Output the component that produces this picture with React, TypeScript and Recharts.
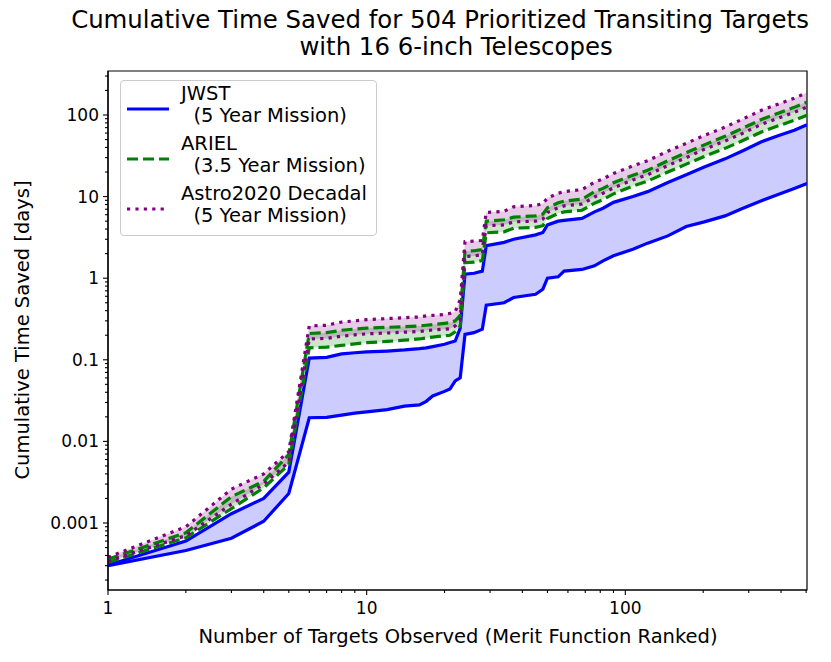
import React from "react";
import {
  ComposedChart,
  Line,
  Area,
  XAxis,
  YAxis,
  Legend,
  ReferenceArea,
} from "recharts";

// targets observed (merit-function ranked)
const targets = [
  1, 2, 3, 4, 5, 6, 7, 8, 9, 10, 12, 14, 16, 17, 18, 20, 21, 22, 23, 24, 26, 28,
  29, 34, 37, 45, 48, 50, 55, 58, 68, 76, 82, 90, 107, 122, 146, 172, 202, 243,
  282, 336, 392, 450, 504,
];

// cumulative time saved [days]
const jwstLow = [
  3.0e-4, 4.6e-4, 6.5e-4, 1.05e-3, 2.3e-3, 0.0195, 0.0197, 0.021, 0.0222, 0.023,
  0.0245, 0.027, 0.028, 0.031, 0.036, 0.041, 0.044, 0.055, 0.06, 0.205, 0.215,
  0.237, 0.467, 0.5, 0.58, 0.636, 0.733, 1.0, 1.04, 1.22, 1.28, 1.42, 1.63, 1.88,
  2.27, 2.69, 3.3, 4.3, 4.9, 5.8, 7.1, 8.9, 10.7, 12.6, 14.5,
];
const jwstHigh = [
  3.05e-4, 6.0e-4, 1.3e-3, 2.0e-3, 4.2e-3, 0.105, 0.107, 0.118, 0.122, 0.125,
  0.128, 0.132, 0.137, 0.14, 0.145, 0.155, 0.163, 0.17, 0.245, 1.12, 1.15, 1.22,
  2.5, 2.75, 3.0, 3.4, 3.63, 4.5, 5.0, 5.1, 5.4, 6.5, 7.2, 8.5, 10.0, 11.5, 14.9,
  18.5, 23, 29, 36, 47, 56, 65, 76,
];
const arielLow = [
  3.3e-4, 6.6e-4, 1.5e-3, 2.7e-3, 5.2e-3, 0.14, 0.143, 0.15, 0.157, 0.162, 0.168,
  0.174, 0.18, 0.185, 0.19, 0.197, 0.2, 0.22, 0.26, 1.55, 1.57, 1.65, 3.6, 3.7,
  4.1, 4.2, 4.4, 5.4, 6.2, 6.5, 6.8, 8.3, 9.2, 10.8, 13.5, 15.5, 20, 25, 31, 39,
  48, 62, 74, 86, 99,
];
const arielHigh = [
  3.6e-4, 7.6e-4, 2.1e-3, 3.25e-3, 6.9e-3, 0.21, 0.215, 0.23, 0.238, 0.245, 0.25,
  0.255, 0.26, 0.265, 0.27, 0.28, 0.285, 0.3, 0.35, 2.15, 2.17, 2.25, 5.0, 5.2,
  5.6, 5.8, 6.1, 7.3, 8.4, 8.8, 9.3, 11.5, 12.6, 14.8, 18.3, 21, 27.5, 34.5, 43,
  55, 68, 88, 106, 124, 144,
];
const astroLow = [
  3.4e-4, 7.0e-4, 1.7e-3, 3.0e-3, 5.6e-3, 0.18, 0.183, 0.195, 0.202, 0.208,
  0.213, 0.218, 0.222, 0.228, 0.232, 0.237, 0.24, 0.26, 0.31, 1.85, 1.87, 1.95,
  4.4, 4.5, 4.9, 5.0, 5.3, 6.4, 7.3, 7.7, 8.1, 9.9, 11, 12.8, 16, 18.5, 24, 30,
  38, 48, 59, 77, 92, 108, 125,
];
const astroHigh = [
  3.8e-4, 9.0e-4, 2.6e-3, 4.0e-3, 7.5e-3, 0.26, 0.265, 0.29, 0.3, 0.31, 0.32,
  0.328, 0.335, 0.345, 0.35, 0.36, 0.37, 0.39, 0.55, 2.8, 2.85, 2.9, 6.4, 6.6,
  7.5, 7.8, 8.2, 9.6, 11, 11.5, 12.2, 15, 16.5, 19.2, 23.8, 27.5, 36, 45, 56, 71,
  88, 114, 137, 160, 188,
];

const xMajorTicks = [1, 10, 100];
const yMajorTicks = [0.001, 0.01, 0.1, 1, 10, 100];

const X_DOMAIN = [1, 504];
const Y_DOMAIN = [1.51e-4, 346];

const minorTicks = (lo: number, hi: number) => {
  const out: number[] = [];
  for (let e = -5; e <= 3; e++) {
    for (let m = 1; m <= 9; m++) {
      const v = m * Math.pow(10, e);
      if (v >= lo * 0.999 && v <= hi * 1.001) out.push(Number(v.toPrecision(3)));
    }
  }
  return out;
};

const xTicks = minorTicks(X_DOMAIN[0], X_DOMAIN[1]);
const yTicks = minorTicks(Y_DOMAIN[0], Y_DOMAIN[1]);

const isMajor = (v: number, majors: number[]) =>
  majors.some((m) => Math.abs(v - m) / m < 1e-6);

const data = targets.map((n, i) => ({
  n,
  jwstLow: jwstLow[i],
  jwstHigh: jwstHigh[i],
  arielLow: arielLow[i],
  arielHigh: arielHigh[i],
  astroLow: astroLow[i],
  astroHigh: astroHigh[i],
  jwstBand: [jwstLow[i], jwstHigh[i]],
  arielBand: [arielLow[i], arielHigh[i]],
  astroBand: [astroLow[i], astroHigh[i]],
}));

const FONT = "'DejaVu Sans', sans-serif";
const BLUE = "#0000ff";
const GREEN = "#008000";
const PURPLE = "#800080";
const LW = 3.2;

const XTick = ({ x, y, payload }: any) => {
  const major = isMajor(payload.value, xMajorTicks);
  return (
    <g>
      <line x1={x} y1={y} x2={x} y2={y + (major ? 5 : 3)} stroke="#000" strokeWidth={1.1} />
      {major && (
        <text x={x} y={y + 24} textAnchor="middle" fontSize={17} fontFamily={FONT} fill="#000">
          {String(payload.value)}
        </text>
      )}
    </g>
  );
};

const YTick = ({ x, y, payload }: any) => {
  const major = isMajor(payload.value, yMajorTicks);
  return (
    <g>
      <line x1={x - (major ? 5 : 3)} y1={y} x2={x} y2={y} stroke="#000" strokeWidth={1.1} />
      {major && (
        <text x={x - 9} y={y + 6} textAnchor="end" fontSize={17} fontFamily={FONT} fill="#000">
          {String(payload.value)}
        </text>
      )}
    </g>
  );
};

const legendRows = [
  { name: "JWST", sub: "  (5 Year Mission)", color: BLUE, dash: undefined as string | undefined },
  { name: "ARIEL", sub: "  (3.5 Year Mission)", color: GREEN, dash: "11 5" },
  { name: "Astro2020 Decadal", sub: "  (5 Year Mission)", color: PURPLE, dash: "3.2 5.2" },
];

const LegendBox = () => (
  <div
    style={{
      position: "relative",
      width: 257,
      height: 156,
      boxSizing: "border-box",
      border: "1.2px solid #cccccc",
      borderRadius: 4,
      background: "rgba(255,255,255,0.8)",
      fontFamily: FONT,
      fontSize: 19.5,
      color: "#000",
    }}
  >
    {legendRows.map((r, i) => {
      const cy = 28 + i * 50;
      return (
        <React.Fragment key={r.name}>
          <svg style={{ position: "absolute", left: 6, top: cy - 5 }} width={42} height={10}>
            <line
              x1={0}
              y1={5}
              x2={42}
              y2={5}
              stroke={r.color}
              strokeWidth={LW}
              strokeDasharray={r.dash}
            />
          </svg>
          <div
            style={{
              position: "absolute",
              left: 60,
              top: cy - 26,
              lineHeight: "22px",
              whiteSpace: "pre",
            }}
          >
            {r.name}
            {"\n"}
            {r.sub}
          </div>
        </React.Fragment>
      );
    })}
  </div>
);

export default function App() {
  return (
    <div style={{ position: "relative", width: 831, height: 662, background: "#fff" }}>
      <style>{`body{margin:0}`}</style>
      <ComposedChart
        width={831}
        height={662}
        data={data}
        margin={{ top: 71, right: 24, bottom: 0, left: 0 }}
      >
        <XAxis
          dataKey="n"
          type="number"
          scale="log"
          domain={X_DOMAIN}
          allowDataOverflow
          ticks={xTicks}
          interval={0}
          tick={<XTick />}
          tickSize={0}
          tickMargin={0}
          tickLine={false}
          height={72}
          axisLine={{ stroke: "#000", strokeWidth: 1.2 }}
        />
        <YAxis
          type="number"
          scale="log"
          domain={Y_DOMAIN}
          allowDataOverflow
          ticks={yTicks}
          interval={0}
          tick={<YTick />}
          tickSize={0}
          tickMargin={0}
          tickLine={false}
          width={108}
          axisLine={{ stroke: "#000", strokeWidth: 1.2 }}
        />
        <Legend
          layout="vertical"
          align="center"
          verticalAlign="middle"
          content={() => <LegendBox />}
          wrapperStyle={{ left: 120, top: 80, width: 257, height: 156 }}
        />

        <Area type="linear" dataKey="jwstBand" fill={BLUE} fillOpacity={0.2} stroke="none" isAnimationActive={false} legendType="none" />
        <Line type="linear" dataKey="jwstLow" stroke={BLUE} strokeWidth={LW} dot={false} isAnimationActive={false} />
        <Line type="linear" dataKey="jwstHigh" stroke={BLUE} strokeWidth={LW} dot={false} isAnimationActive={false} />

        <Area type="linear" dataKey="arielBand" fill={GREEN} fillOpacity={0.2} stroke="none" isAnimationActive={false} legendType="none" />
        <Line type="linear" dataKey="arielLow" stroke={GREEN} strokeWidth={LW} strokeDasharray="11 5" dot={false} isAnimationActive={false} />
        <Line type="linear" dataKey="arielHigh" stroke={GREEN} strokeWidth={LW} strokeDasharray="11 5" dot={false} isAnimationActive={false} />

        <Area type="linear" dataKey="astroBand" fill={PURPLE} fillOpacity={0.2} stroke="none" isAnimationActive={false} legendType="none" />
        <Line type="linear" dataKey="astroLow" stroke={PURPLE} strokeWidth={LW} strokeDasharray="3.2 5.2" dot={false} isAnimationActive={false} />
        <Line type="linear" dataKey="astroHigh" stroke={PURPLE} strokeWidth={LW} strokeDasharray="3.2 5.2" dot={false} isAnimationActive={false} />

        {/* plot frame */}
        <ReferenceArea
          x1={X_DOMAIN[0]}
          x2={X_DOMAIN[1]}
          y1={Y_DOMAIN[0]}
          y2={Y_DOMAIN[1]}
          fill="none"
          fillOpacity={0}
          stroke="#000"
          strokeWidth={1.2}
          ifOverflow="visible"
        />
      </ComposedChart>

      <svg
        width={831}
        height={662}
        style={{ position: "absolute", left: 0, top: 0, pointerEvents: "none" }}
      >
        <text x={440} y={28} textAnchor="middle" fontSize={24.4} fontFamily={FONT} fill="#000">
          Cumulative Time Saved for 504 Prioritized Transiting Targets
        </text>
        <text x={456} y={55} textAnchor="middle" fontSize={24.4} fontFamily={FONT} fill="#000">
          with 16 6-inch Telescopes
        </text>
        <text x={458} y={643} textAnchor="middle" fontSize={19.5} fontFamily={FONT} fill="#000">
          Number of Targets Observed (Merit Function Ranked)
        </text>
        <text
          x={29}
          y={330}
          textAnchor="middle"
          fontSize={19.5}
          fontFamily={FONT}
          fill="#000"
          transform="rotate(-90 29 330)"
        >
          Cumulative Time Saved [days]
        </text>
      </svg>
    </div>
  );
}
